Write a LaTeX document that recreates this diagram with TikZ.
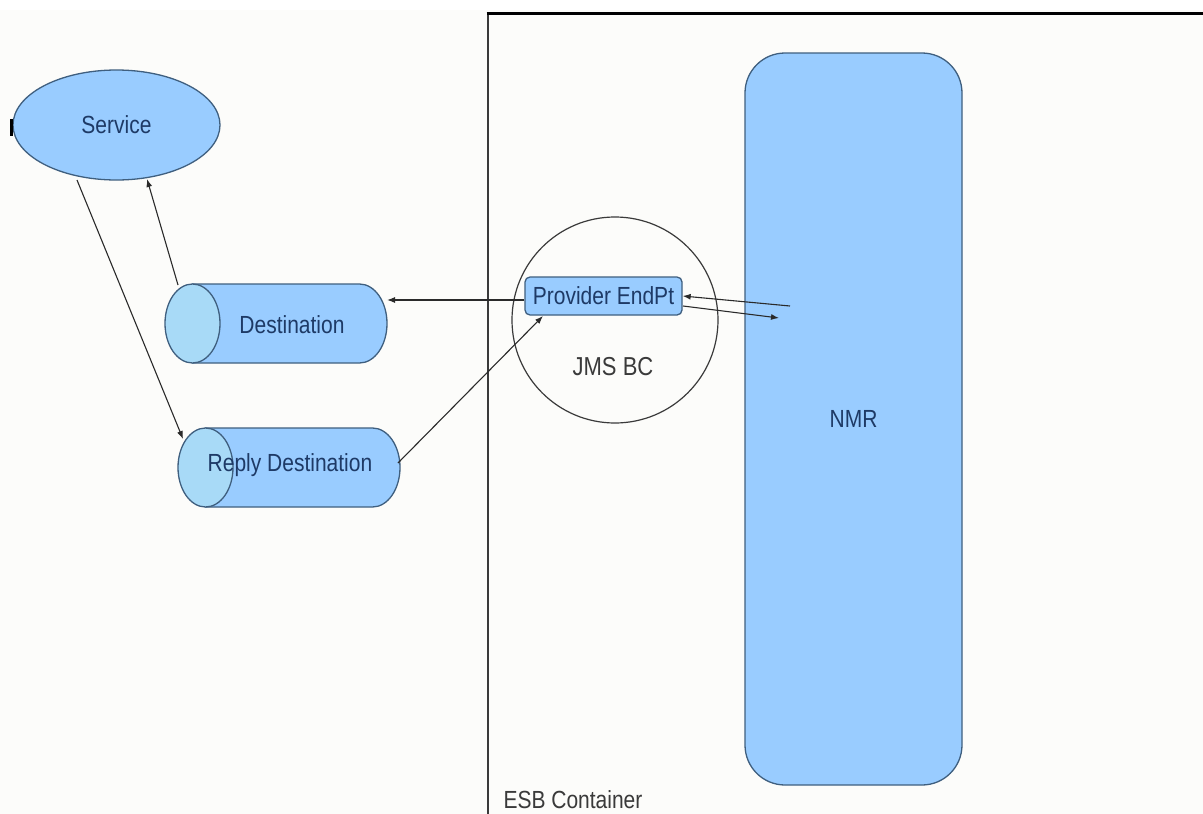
\documentclass[tikz,border=0pt]{standalone}
\usepackage{fontspec}
\setmainfont{Liberation Sans}
\usetikzlibrary{shapes.geometric,arrows.meta}
\definecolor{bg}{HTML}{FCFCFA}
\definecolor{boxfill}{HTML}{99CCFF}
\definecolor{capfill}{HTML}{A8DAF7}
\definecolor{edge}{HTML}{3F5F7F}
\definecolor{navy}{HTML}{1E3A66}
\definecolor{wire}{HTML}{2A2A2A}
\definecolor{graytxt}{HTML}{3A3A3A}
\newcommand{\tallt}[1]{\scalebox{1}[1.18]{#1}}
\tikzset{
  lbl/.style={font=\fontsize{21}{25}\selectfont, text=navy},
  bluebox/.style={draw=edge, fill=boxfill, line width=1.3pt},
  flow/.style={draw=wire, line width=1.1pt, -{Latex[length=8pt,width=6pt]}},
  tube/.pic={
    \path[fill=boxfill, draw=edge, line width=1.3pt]
      (-83.5,-39.5) -- (83.5,-39.5)
      arc[start angle=90, end angle=-90, x radius=27.5pt, y radius=39.5pt]
      -- (-83.5,39.5) -- cycle;
    \path[fill=capfill, draw=edge, line width=1.3pt]
      (-83.5,0) ellipse[x radius=27.5pt, y radius=39.5pt];
  },
}
\begin{document}
\begin{tikzpicture}[x=1pt,y=-1pt]
\useasboundingbox (0,0) rectangle (1203,814);
\fill[bg] (0,10) rectangle (1203,814);
% ESB container
\draw[draw=graytxt, line width=1.6pt] (488,13) -- (488,814);
\draw[black, line width=3pt] (486.5,13) -- (1203,13);
\node[anchor=base west, font=\fontsize{21}{25}\selectfont, text=graytxt] (esb) at (500,808) {\tallt{ESB Container}};
% NMR
\node[bluebox, rounded corners=40pt, minimum width=217pt, minimum height=732pt, lbl] (nmr) at (853.5,419) {\tallt{NMR}};
% JMS BC
\node[circle, draw=graytxt, line width=1.2pt, minimum size=206pt] (jms) at (615,320) {};
\node[font=\fontsize{22}{26}\selectfont, text=graytxt] (jmslbl) at (613,367) {\tallt{JMS BC}};
\node[bluebox, rounded corners=5pt, minimum width=157pt, minimum height=38pt, inner sep=0pt, lbl] (ep) at (603.5,296) {\tallt{Provider EndPt}};
% Service
\node[ellipse, bluebox, minimum width=207pt, minimum height=110pt, lbl] (svc) at (116.5,125) {\tallt{Service}};
\draw[black, line width=3pt] (11.5,119) -- (11.5,136);
% Destinations
\pic at (276,323.5) {tube};
\node[lbl] (dest) at (292,325) {\tallt{Destination}};
\pic at (289,467.5) {tube};
\node[lbl] (reply) at (290,465) {\tallt{Reply Destination}};
% connectors
\coordinate (n1) at (790,306);
\coordinate (n2) at (779,318);
\coordinate (ep2) at (683,306);
\coordinate (ep3) at (543,316);
\coordinate (destE) at (387,300);
\coordinate (destN) at (178,285);
\coordinate (svcS1) at (147,179);
\coordinate (svcS2) at (77,180);
\coordinate (replyW) at (183,439);
\coordinate (replyE) at (398,463);
\draw[flow] (ep.west |- destE) -- (destE);
\draw[flow] (destN) -- (svcS1);
\draw[flow] (svcS2) -- (replyW);
\draw[flow] (replyE) -- (ep3);
\draw[flow] (n1) -- (ep.east);
\draw[flow] (ep2) -- (n2);
\end{tikzpicture}
\end{document}
